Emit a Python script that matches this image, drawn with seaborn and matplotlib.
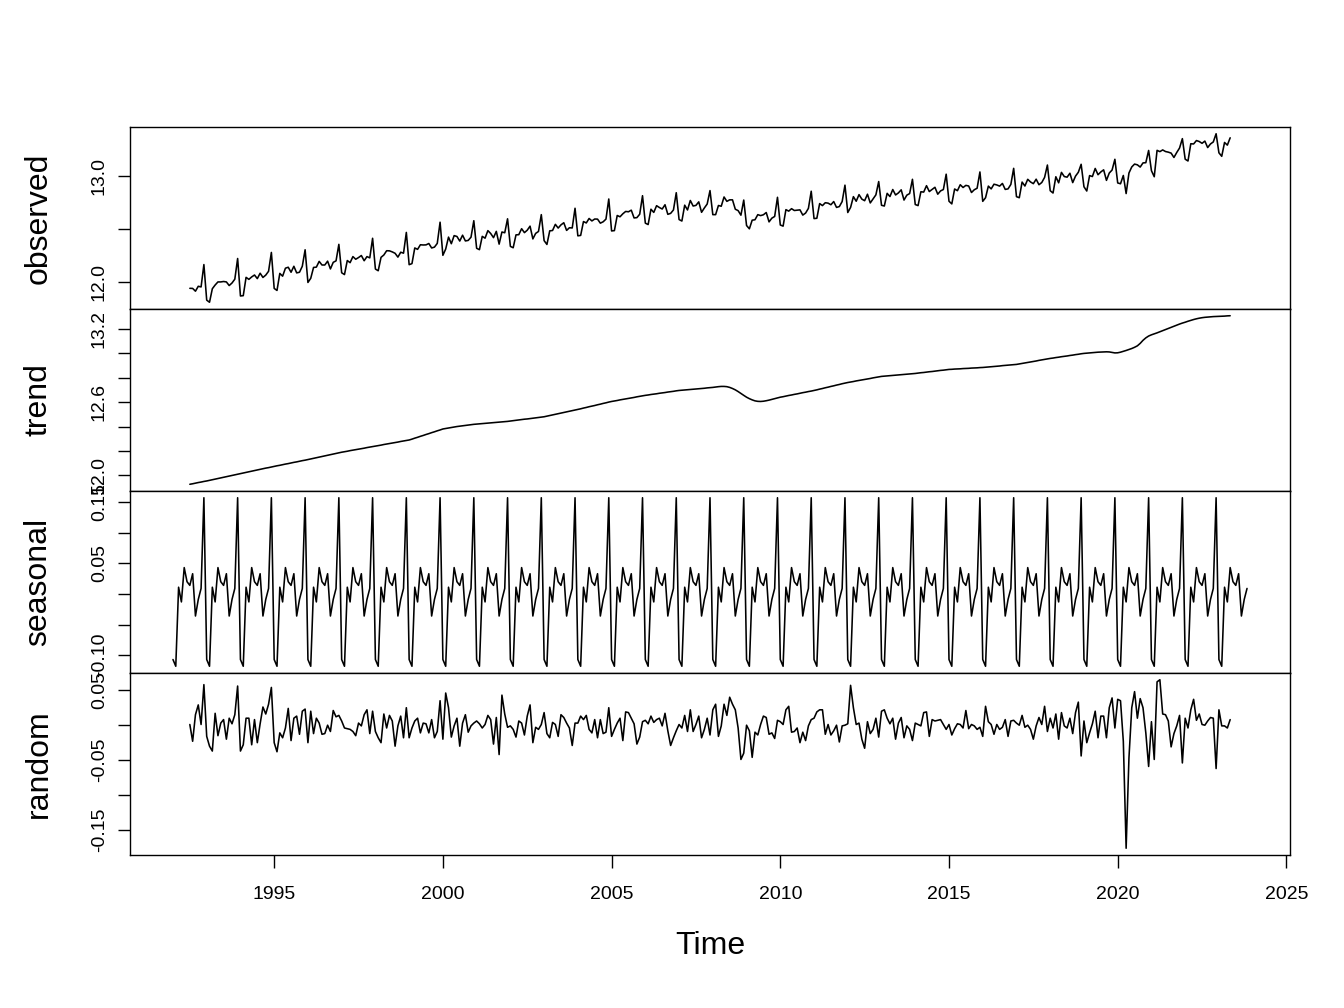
import numpy as np
import pandas as pd
import matplotlib
matplotlib.use("Agg")
import matplotlib.pyplot as plt
import seaborn as sns

# ---------------- data ----------------
start_year = 1992          # seasonal component starts Jan 1992
n_months = 383             # Jan 1992 .. Nov 2023
trend_offset = 6           # trend / random / observed start Jul 1992

seasonal_pattern = [-0.107, -0.118, 0.011, -0.013, 0.043, 0.020,
                    0.014, 0.033, -0.036, -0.009, 0.009, 0.157]

trend_values = [
    11.928, 11.932, 11.937, 11.942, 11.946, 11.951,
    11.955, 11.960, 11.965, 11.970, 11.975, 11.980, 11.985, 11.990, 11.995, 12.000, 12.005, 12.010,
    12.015, 12.020, 12.025, 12.030, 12.035, 12.040, 12.045, 12.050, 12.055, 12.060, 12.064, 12.069,
    12.074, 12.079, 12.083, 12.088, 12.093, 12.097, 12.102, 12.107, 12.111, 12.116, 12.121, 12.125,
    12.130, 12.135, 12.140, 12.145, 12.150, 12.155, 12.160, 12.165, 12.170, 12.175, 12.180, 12.185,
    12.190, 12.194, 12.198, 12.203, 12.207, 12.211, 12.215, 12.219, 12.223, 12.228, 12.232, 12.236,
    12.240, 12.244, 12.248, 12.253, 12.257, 12.261, 12.265, 12.269, 12.273, 12.278, 12.282, 12.286,
    12.290, 12.297, 12.305, 12.312, 12.320, 12.327, 12.335, 12.342, 12.350, 12.357, 12.365, 12.372,
    12.380, 12.384, 12.388, 12.392, 12.396, 12.400, 12.403, 12.406, 12.409, 12.412, 12.415, 12.418,
    12.420, 12.422, 12.424, 12.426, 12.428, 12.430, 12.432, 12.434, 12.436, 12.438, 12.440, 12.442,
    12.445, 12.448, 12.451, 12.454, 12.457, 12.460, 12.462, 12.465, 12.468, 12.471, 12.474, 12.477,
    12.480, 12.485, 12.490, 12.495, 12.500, 12.505, 12.510, 12.515, 12.520, 12.525, 12.530, 12.535,
    12.540, 12.545, 12.551, 12.556, 12.562, 12.567, 12.572, 12.578, 12.583, 12.589, 12.594, 12.600,
    12.605, 12.609, 12.613, 12.618, 12.622, 12.626, 12.630, 12.634, 12.638, 12.643, 12.647, 12.651,
    12.655, 12.658, 12.662, 12.665, 12.668, 12.672, 12.675, 12.678, 12.682, 12.685, 12.688, 12.692,
    12.695, 12.697, 12.699, 12.701, 12.703, 12.705, 12.707, 12.709, 12.711, 12.713, 12.716, 12.718,
    12.720, 12.723, 12.726, 12.728, 12.728, 12.726, 12.720, 12.711, 12.700, 12.686, 12.670, 12.655,
    12.640, 12.628, 12.618, 12.610, 12.606, 12.605, 12.607, 12.611, 12.616, 12.622, 12.628, 12.634,
    12.640, 12.644, 12.649, 12.654, 12.658, 12.663, 12.667, 12.672, 12.677, 12.681, 12.686, 12.690,
    12.695, 12.700, 12.706, 12.711, 12.717, 12.722, 12.728, 12.733, 12.739, 12.744, 12.750, 12.755,
    12.760, 12.764, 12.768, 12.773, 12.777, 12.781, 12.785, 12.789, 12.793, 12.798, 12.802, 12.806,
    12.810, 12.812, 12.814, 12.816, 12.818, 12.820, 12.822, 12.824, 12.826, 12.828, 12.830, 12.832,
    12.834, 12.837, 12.840, 12.842, 12.845, 12.848, 12.850, 12.853, 12.856, 12.859, 12.861, 12.864,
    12.867, 12.868, 12.870, 12.871, 12.872, 12.874, 12.875, 12.876, 12.878, 12.879, 12.880, 12.882,
    12.883, 12.885, 12.887, 12.889, 12.891, 12.893, 12.895, 12.898, 12.900, 12.902, 12.904, 12.906,
    12.908, 12.912, 12.916, 12.920, 12.924, 12.928, 12.932, 12.936, 12.941, 12.945, 12.949, 12.953,
    12.957, 12.960, 12.964, 12.967, 12.971, 12.974, 12.977, 12.981, 12.984, 12.988, 12.991, 12.995,
    12.998, 13.000, 13.002, 13.004, 13.006, 13.008, 13.009, 13.010, 13.011, 13.010, 13.006, 13.002,
    13.003, 13.008, 13.015, 13.022, 13.030, 13.038, 13.048, 13.060, 13.080, 13.105, 13.125, 13.140,
    13.150, 13.158, 13.166, 13.175, 13.184, 13.193, 13.202, 13.211, 13.220, 13.229, 13.238, 13.246,
    13.253, 13.261, 13.268, 13.275, 13.281, 13.286, 13.290, 13.293, 13.295, 13.297, 13.299, 13.300,
    13.301, 13.302, 13.303, 13.305, 13.306,
]

random_values = [
    0.001, -0.023, 0.015, 0.029, 0.001, 0.058, -0.016, -0.030, -0.037, 0.017,
    -0.015, 0.003, 0.008, -0.020, 0.010, 0.002, 0.015, 0.056, -0.037, -0.028,
    0.010, 0.010, -0.028, 0.008, -0.025, 0.002, 0.026, 0.016, 0.030, 0.054,
    -0.025, -0.038, -0.011, -0.018, -0.004, 0.024, -0.022, 0.010, 0.013, -0.013,
    0.020, 0.023, -0.025, 0.020, -0.012, 0.010, 0.003, -0.013, -0.012, 0.000,
    -0.009, 0.021, 0.012, 0.014, 0.006, -0.004, -0.005, -0.006, -0.009, -0.015,
    0.003, -0.001, 0.015, 0.022, -0.012, 0.020, -0.009, -0.018, -0.025, 0.016,
    -0.004, 0.014, 0.006, -0.030, -0.001, 0.013, -0.018, 0.025, -0.018, -0.004,
    0.006, 0.010, -0.011, 0.003, 0.002, -0.011, 0.008, -0.018, -0.009, 0.035,
    -0.020, 0.046, 0.025, -0.017, -0.001, 0.010, -0.030, 0.003, 0.015, -0.010,
    -0.001, 0.003, 0.006, 0.002, -0.004, 0.001, 0.014, 0.008, -0.027, 0.011,
    -0.042, 0.043, 0.016, -0.003, -0.001, -0.006, -0.017, 0.006, 0.003, -0.014,
    0.013, 0.029, -0.025, -0.003, -0.006, 0.001, 0.018, -0.012, -0.018, 0.004,
    0.001, -0.016, 0.015, 0.011, 0.003, -0.004, -0.029, 0.003, 0.003, 0.013,
    0.008, 0.014, -0.006, -0.011, 0.008, -0.018, 0.008, -0.012, -0.010, 0.025,
    -0.016, -0.006, 0.003, 0.010, -0.022, 0.019, 0.018, 0.010, 0.002, -0.027,
    -0.017, 0.005, 0.007, 0.002, 0.013, 0.004, 0.008, 0.010, -0.001, 0.017,
    -0.008, -0.029, -0.018, -0.008, 0.001, -0.004, 0.014, -0.009, 0.022, -0.009,
    0.001, 0.013, -0.018, -0.006, 0.010, -0.014, 0.022, 0.030, -0.016, -0.001,
    0.030, 0.014, 0.040, 0.030, 0.022, -0.004, -0.049, -0.040, 0.000, -0.008,
    -0.046, -0.010, -0.014, 0.001, 0.013, 0.011, -0.013, -0.011, -0.019, 0.007,
    0.005, 0.001, 0.022, 0.027, -0.010, -0.009, -0.004, -0.025, -0.010, -0.022,
    -0.001, 0.008, 0.010, 0.019, 0.022, 0.022, -0.013, 0.001, -0.014, -0.008,
    0.000, -0.024, -0.001, 0.000, 0.002, 0.057, 0.025, 0.001, 0.003, -0.020,
    -0.033, 0.005, -0.012, -0.006, 0.010, -0.017, 0.020, 0.022, 0.010, 0.002,
    0.010, -0.020, 0.003, 0.011, -0.018, -0.001, -0.006, -0.022, 0.003, 0.001,
    -0.001, 0.018, 0.019, -0.016, 0.008, 0.006, 0.007, 0.008, 0.001, -0.006,
    0.001, -0.014, -0.005, 0.002, 0.001, -0.004, 0.021, -0.005, 0.001, -0.001,
    -0.006, -0.003, -0.016, 0.027, 0.005, 0.001, -0.013, 0.001, -0.006, -0.003,
    0.008, -0.016, 0.006, 0.007, 0.003, 0.000, 0.014, -0.003, 0.000, -0.006,
    -0.020, -0.001, 0.011, 0.001, 0.027, -0.009, 0.010, -0.004, 0.016, -0.020,
    0.018, -0.001, -0.004, 0.010, -0.012, 0.018, 0.033, -0.044, 0.006, -0.025,
    -0.011, 0.002, 0.020, -0.018, 0.013, 0.013, -0.018, 0.025, 0.039, -0.004,
    0.037, 0.035, -0.023, -0.176, -0.047, 0.025, 0.048, 0.010, 0.038, 0.025,
    -0.011, -0.059, 0.005, -0.049, 0.062, 0.065, 0.016, 0.015, 0.006, -0.031,
    -0.012, -0.001, 0.014, -0.054, 0.010, -0.004, 0.022, 0.037, 0.007, 0.016,
    0.001, 0.000, 0.006, 0.011, 0.010, -0.062, 0.022, -0.001, -0.001, -0.004,
    0.008,
]

panel_names = ["observed", "trend", "seasonal", "random"]
x_ticks = [1995, 2000, 2005, 2010, 2015, 2020, 2025]
y_ticks = {
    "observed": [12.0, 12.5, 13.0],
    "trend": [12.0, 12.2, 12.4, 12.6, 12.8, 13.0, 13.2],
    "seasonal": [-0.10, -0.05, 0.00, 0.05, 0.10, 0.15],
    "random": [-0.15, -0.10, -0.05, 0.00, 0.05],
}
y_tick_labels = {
    "observed": ["12.0", "", "13.0"],
    "trend": ["12.0", "", "", "12.6", "", "", "13.2"],
    "seasonal": ["-0.10", "", "", "0.05", "", "0.15"],
    "random": ["-0.15", "", "-0.05", "", "0.05"],
}

# ---------------- assemble series ----------------
time_all = start_year + np.arange(n_months) / 12.0
seasonal = np.resize(np.array(seasonal_pattern), n_months)
n_inner = min(len(trend_values), len(random_values))
trend = np.array(trend_values[:n_inner])
random_c = np.array(random_values[:n_inner])
time_inner = time_all[trend_offset:trend_offset + n_inner]
observed = trend + seasonal[trend_offset:trend_offset + n_inner] + random_c

frames = {
    "observed": pd.DataFrame({"Time": time_inner, "value": observed}),
    "trend": pd.DataFrame({"Time": time_inner, "value": trend}),
    "seasonal": pd.DataFrame({"Time": time_all, "value": seasonal}),
    "random": pd.DataFrame({"Time": time_inner, "value": random_c}),
}

# ---------------- style ----------------
sns.set_theme(style="ticks")
plt.rcParams["font.family"] = ["Liberation Sans", "DejaVu Sans"]
plt.rcParams["axes.edgecolor"] = "black"
plt.rcParams["axes.linewidth"] = 1.0
plt.rcParams["xtick.color"] = "black"
plt.rcParams["ytick.color"] = "black"
plt.rcParams["xtick.labelcolor"] = "black"
plt.rcParams["ytick.labelcolor"] = "black"
plt.rcParams["text.color"] = "black"
plt.rcParams["axes.labelcolor"] = "black"

W, H = 1344, 1008
fig = plt.figure(figsize=(W / 100, H / 100), dpi=100)
left_px, right_px, top_px, bottom_px = 130, 1290, 127, 855
panel_h = (bottom_px - top_px) / 4.0

def r_range(v):
    lo, hi = np.nanmin(v), np.nanmax(v)
    pad = 0.04 * (hi - lo)
    return lo - pad, hi + pad

xlim = r_range(time_all)

for i, name in enumerate(panel_names):
    y0 = top_px + i * panel_h
    ax = fig.add_axes([left_px / W, 1 - (y0 + panel_h) / H,
                       (right_px - left_px) / W, panel_h / H])
    sns.lineplot(data=frames[name], x="Time", y="value", ax=ax,
                 color="black", linewidth=1.15, sort=False, estimator=None)
    ax.set_xlim(*xlim)
    ax.set_ylim(*r_range(frames[name]["value"].values))
    for s in ax.spines.values():
        s.set_visible(True)
        s.set_linewidth(1.0)
        s.set_color("black")
    ax.set_yticks(y_ticks[name])
    ax.set_yticklabels(y_tick_labels[name])
    ax.tick_params(axis="y", which="major", direction="out", length=9,
                   width=1.0, labelsize=14, pad=7, labelrotation=90,
                   labelcolor="black")
    for lab in ax.get_yticklabels():
        lab.set_va("center")
    ax.set_ylabel(name, fontsize=23, color="black")
    ax.yaxis.set_label_coords(-0.066, 0.5)
    if i < 3:
        ax.set_xticks([])
        ax.set_xlabel("")
        ax.tick_params(axis="x", bottom=False, labelbottom=False)
    else:
        ax.set_xticks(x_ticks)
        ax.set_xticklabels([str(t) for t in x_ticks])
        ax.tick_params(axis="x", direction="out", length=9, width=1.0,
                       labelsize=14, pad=13, labelcolor="black")
        ax.set_xlabel("Time", fontsize=23, color="black")
        ax.xaxis.set_label_coords(0.5, -0.415)
        ax.xaxis.label.set_va("top")

fig.savefig("out.png", dpi=100, facecolor="white")
